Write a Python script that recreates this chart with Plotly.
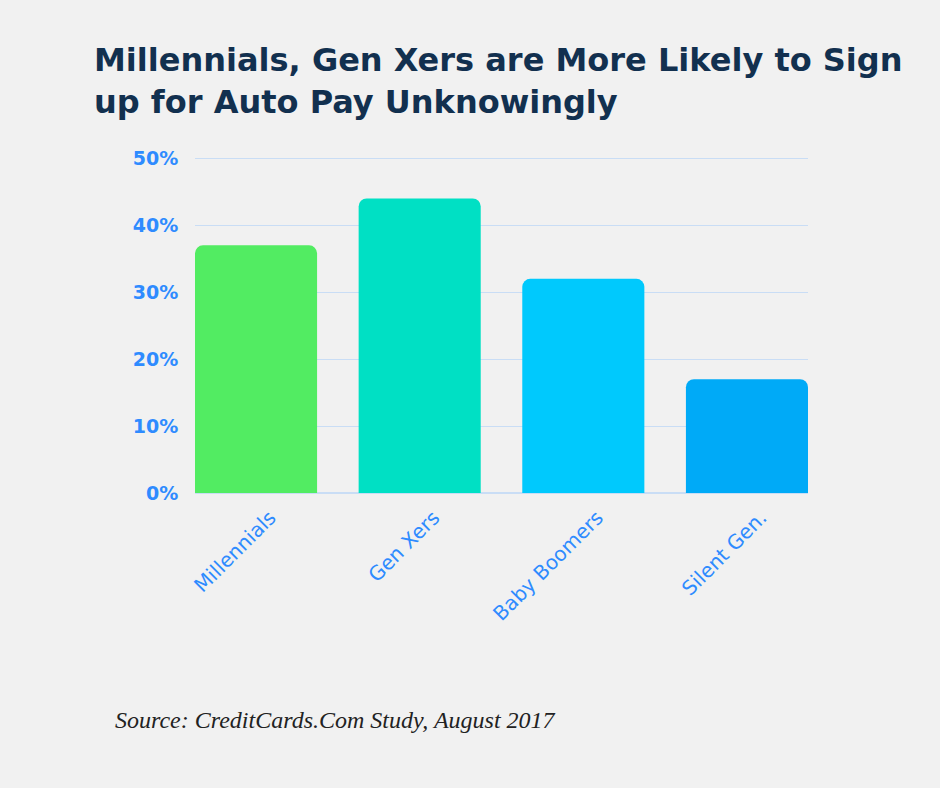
import plotly.graph_objects as go

generations = ["Millennials", "Gen Xers", "Baby Boomers", "Silent Gen."]
share = [0.37, 0.44, 0.32, 0.17]
bar_colors = ["#52EC62", "#00E0C4", "#00C9FD", "#00AAF7"]
y_ticks = [0, 0.1, 0.2, 0.3, 0.4, 0.5]
y_tick_text = ["0%", "10%", "20%", "30%", "40%", "50%"]

title_text = "Millennials, Gen Xers are More Likely to Sign<br>up for Auto Pay Unknowingly"
source_text = "Source: CreditCards.Com Study, August 2017"

fig = go.Figure(
    go.Bar(
        x=generations,
        y=share,
        marker=dict(color=bar_colors, cornerradius=8, line=dict(width=0)),
        width=0.746,
        hoverinfo="x+y",
    )
)

# plot area: x 195..808, y ~155..493 in page pixels (50% line sits at y=159)
fig.update_layout(
    width=940,
    height=788,
    paper_bgcolor="#F1F1F1",
    plot_bgcolor="#F1F1F1",
    margin=dict(l=195, r=132, t=155, b=295),
    showlegend=False,
    font=dict(family="DejaVu Sans", color="#2E8BFF"),
)

fig.update_xaxes(
    range=[-0.373, 3.373],
    tickangle=-45,
    tickfont=dict(family="DejaVu Sans", size=20, color="#2E8BFF"),
    ticklabelshift=14,
    showgrid=False,
    showline=False,
    ticks="outside",
    ticklen=4,
    tickcolor="rgba(0,0,0,0)",
)

# range a bit above 50% so the top gridline still gets drawn
fig.update_yaxes(
    range=[0, 0.505],
    tickvals=y_ticks,
    ticktext=y_tick_text,
    tickfont=dict(family="DejaVu Sans", size=19, color="#2E8BFF", weight="bold"),
    gridcolor="#C9DDF5",
    gridwidth=1,
    zeroline=True,
    zerolinecolor="#C9DDF5",
    zerolinewidth=2,
    ticks="outside",
    ticklen=12,
    tickcolor="rgba(0,0,0,0)",
)

# title as a paper annotation so both lines land where the reference has them
fig.add_annotation(
    text=title_text,
    xref="paper",
    yref="paper",
    x=-103 / 613,
    y=(493 - 81) / 338,
    xanchor="left",
    yanchor="middle",
    align="left",
    showarrow=False,
    font=dict(family="DejaVu Sans", size=32, color="#12304F", weight="bold"),
)

fig.add_annotation(
    text=source_text,
    xref="paper",
    yref="paper",
    x=-82 / 613,
    y=(493 - 720) / 338,
    xanchor="left",
    yanchor="middle",
    showarrow=False,
    font=dict(family="Liberation Serif", size=24, color="#222222", style="italic"),
)

fig.write_html(
    "out.html",
    config={"displayModeBar": False},
    post_script="document.body.style.margin='0';document.body.style.background='#F1F1F1';",
)
